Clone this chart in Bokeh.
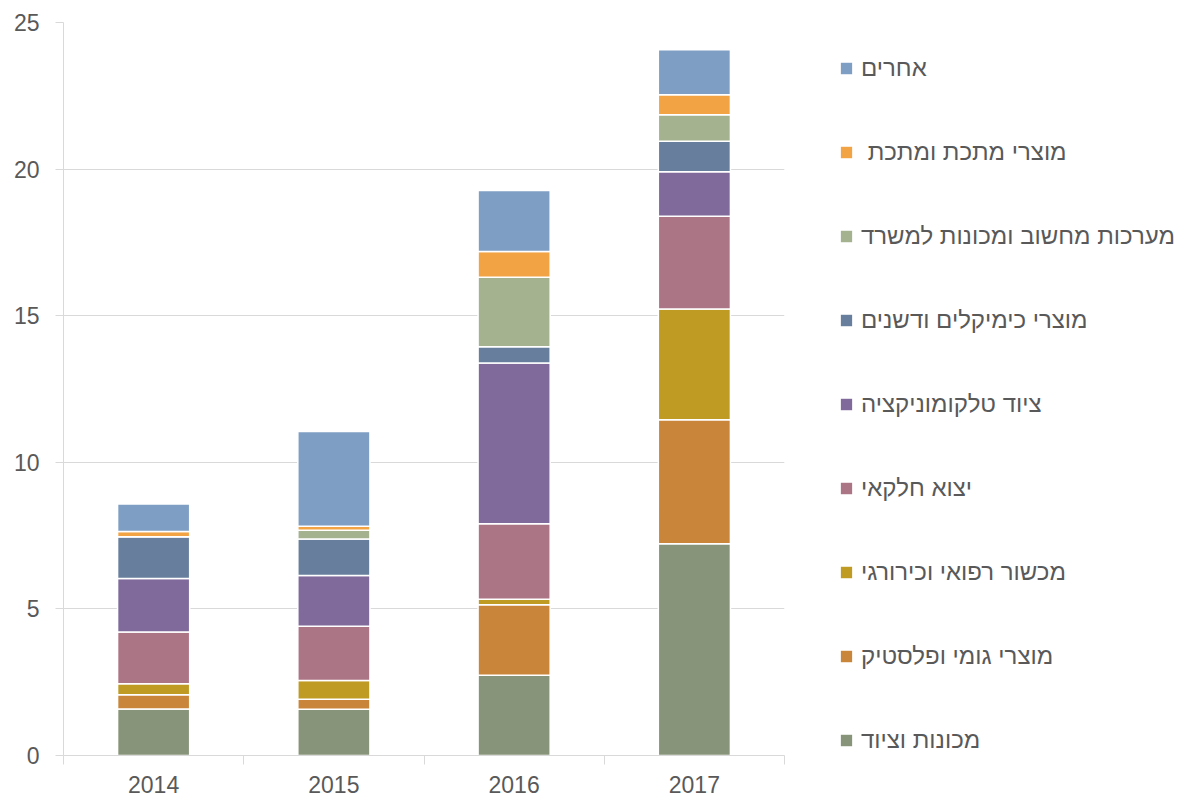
from bokeh.plotting import figure
from bokeh.models import (ColumnDataSource, FixedTicker, Legend, LegendItem, Range1d)
from bokeh.embed import file_html
from bokeh.resources import INLINE

years = ["2014", "2015", "2016", "2017"]
series_names = [
    "מכונות וציוד",
    "מוצרי גומי ופלסטיק",
    "מכשור רפואי וכירורגי",
    "יצוא חלקאי",
    "ציוד טלקומוניקציה",
    "מוצרי כימיקלים ודשנים",
    "מערכות מחשוב ומכונות למשרד",
    " מוצרי מתכת ומתכת",
    "אחרים",
]
machinery = [1.59, 1.58, 2.74, 7.22]
rubber_plastic = [0.48, 0.34, 2.40, 4.23]
medical = [0.38, 0.64, 0.19, 3.78]
electronic_parts = [1.76, 1.85, 2.57, 3.16]
telecom = [1.83, 1.73, 5.49, 1.52]
chemicals = [1.42, 1.24, 0.55, 1.04]
computers = [0.00, 0.30, 2.37, 0.90]
metal = [0.18, 0.14, 0.88, 0.69]
others = [0.94, 3.23, 2.08, 1.53]

colors = ["#889479", "#C9863A", "#BF9B23", "#AB7585", "#7F6A9B",
          "#677F9D", "#A4B290", "#F2A445", "#7F9EC3"]

keys = ["s%d" % i for i in range(9)]
values = [machinery, rubber_plastic, medical, electronic_parts, telecom,
          chemicals, computers, metal, others]
data = {"x": [i + 0.5 for i in range(len(years))]}
for k, v in zip(keys, values):
    data[k] = v
source = ColumnDataSource(data)

FONT = "Liberation Sans"
GRAY = "#595959"
LINE = "#D9D9D9"

p = figure(frame_width=721, frame_height=733, output_backend="svg",
           toolbar_location=None, x_range=Range1d(0, 4), y_range=Range1d(0, 25),
           min_border_left=63, min_border_top=22, min_border_bottom=47,
           min_border_right=10)
p.outline_line_color = None

renderers = p.vbar_stack(keys, x="x", width=0.4, source=source, color=colors,
                         line_color="white", line_width=1.5)

# axes
p.yaxis.ticker = FixedTicker(ticks=[0, 5, 10, 15, 20, 25])
p.yaxis.axis_line_color = LINE
p.yaxis.major_tick_line_color = LINE
p.yaxis.major_tick_in = 0
p.yaxis.major_tick_out = 8
p.yaxis.minor_tick_line_color = None
p.yaxis.major_label_text_font = FONT
p.yaxis.major_label_text_font_size = "23px"
p.yaxis.major_label_text_color = GRAY
p.yaxis.major_label_standoff = 16

p.xaxis.ticker = FixedTicker(ticks=[0.5, 1.5, 2.5, 3.5], minor_ticks=[0, 1, 2, 3, 4])
p.xaxis.major_label_overrides = {i + 0.5: y for i, y in enumerate(years)}
p.xaxis.axis_line_color = LINE
p.xaxis.major_tick_line_color = None
p.xaxis.major_tick_in = 0
p.xaxis.major_tick_out = 0
p.xaxis.minor_tick_line_color = LINE
p.xaxis.minor_tick_in = 0
p.xaxis.minor_tick_out = 9
p.xaxis.major_label_text_font = FONT
p.xaxis.major_label_text_font_size = "23px"
p.xaxis.major_label_text_color = GRAY
p.xaxis.major_label_standoff = 11

p.xgrid.grid_line_color = None
p.ygrid.grid_line_color = LINE
p.ygrid.grid_line_width = 1

items = [LegendItem(label=n, renderers=[r]) for n, r in zip(series_names, renderers)]
legend = Legend(items=list(reversed(items)), location=(54, 1))
legend.border_line_color = None
legend.background_fill_alpha = 0
legend.label_text_font = FONT
legend.label_text_font_size = "24px"
legend.label_text_color = GRAY
legend.glyph_width = 16
legend.glyph_height = 16
legend.label_height = 24
legend.spacing = 56
legend.label_standoff = 7
legend.margin = 0
legend.padding = 0
p.add_layout(legend, "right")
p.min_border_right = 10

open("out.html", "w").write(file_html(p, INLINE))
